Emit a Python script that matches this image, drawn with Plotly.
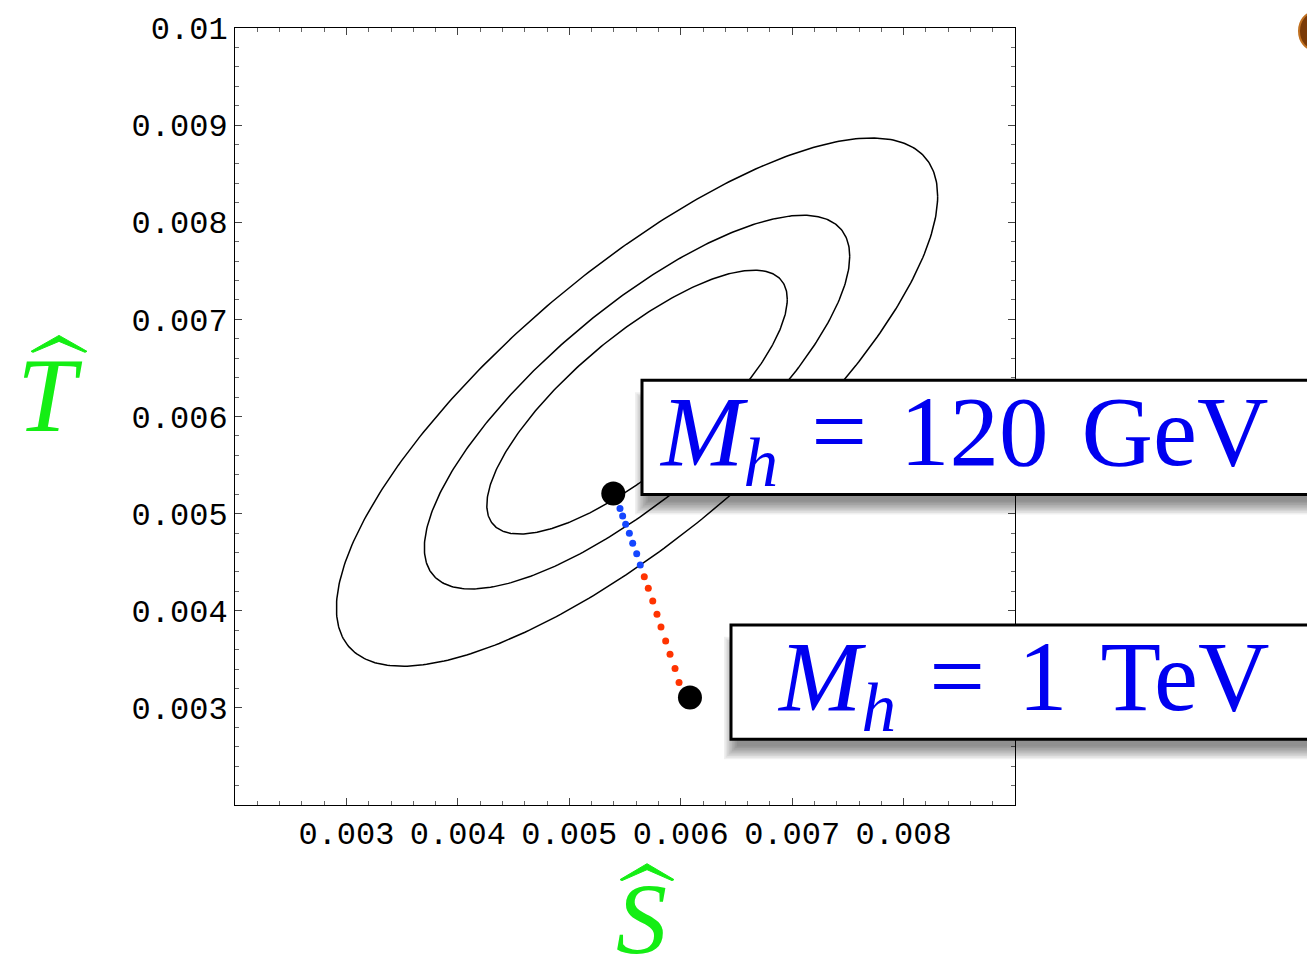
import numpy as np
import plotly.graph_objects as go

# Fit ellipse parameters in the (S, T) plane
center_s, center_t = 0.005608, 0.006148
sigma_s, sigma_t, rho = 0.000889, 0.000896, 0.78
delta_chi2 = [2.30, 4.61, 9.21]  # 68%, 90%, 99% CL for 2 parameters

# Standard-model predictions along the Higgs mass scan
s_light = [0.005455, 0.005479, 0.005506, 0.005539, 0.005569, 0.005605, 0.005637]
t_light = [0.005054, 0.004976, 0.004890, 0.004798, 0.004696, 0.004587, 0.004470]
s_heavy = [0.005673, 0.005709, 0.005749, 0.005787, 0.005823, 0.005865, 0.005904, 0.005949, 0.005985]
t_heavy = [0.004351, 0.004232, 0.004101, 0.003965, 0.003832, 0.003689, 0.003552, 0.003405, 0.003261]
end_s = [0.005395, 0.006083]
end_t = [0.005208, 0.003108]
end_labels = ["<i>M</i><sub><i>h</i></sub> \u200a=\u200a 120 \u200aGeV",
              "<i>M</i><sub><i>h</i></sub> \u200a=\u200a 1 \u200aTeV"]

x_ticks = [0.003, 0.004, 0.005, 0.006, 0.007, 0.008]
x_ticktext = ["0.003", "0.004", "0.005", "0.006", "0.007", "0.008"]
y_ticks = [0.003, 0.004, 0.005, 0.006, 0.007, 0.008, 0.009, 0.01]
y_ticktext = ["0.003", "0.004", "0.005", "0.006", "0.007", "0.008", "0.009", "0.01"]

W, H = 1307, 964
ML, MR, MT, MB = 235, 292, 24, 159
PW, PH = W - ML - MR, H - MT - MB


def px(x):
    return (x - ML) / PW


def py(y):
    return (H - MB - y) / PH


fig = go.Figure()

theta = np.linspace(0, 2 * np.pi, 400)
for d in delta_chi2:
    k = np.sqrt(d)
    s = center_s + k * sigma_s * np.cos(theta)
    t = center_t + k * sigma_t * (rho * np.cos(theta) + np.sqrt(1 - rho ** 2) * np.sin(theta))
    fig.add_trace(go.Scatter(x=s, y=t, mode="lines", line=dict(color="black", width=1.5),
                             hoverinfo="skip", showlegend=False))

fig.add_trace(go.Scatter(x=s_heavy, y=t_heavy, mode="markers",
                         marker=dict(color="#ff3300", size=7), showlegend=False))
fig.add_trace(go.Scatter(x=s_light, y=t_light, mode="markers",
                         marker=dict(color="#1446ff", size=7), showlegend=False))
fig.add_trace(go.Scatter(x=end_s, y=end_t, mode="markers",
                         marker=dict(color="black", size=24), showlegend=False))

shapes = []
boxes = [(642, 378, 493), (731, 624, 739)]
for (bx, by0, by1) in boxes:
    # soft drop shadow, offset downwards
    for i in range(9):
        inset = 1.6 * i
        shapes.append(dict(type="rect", xref="paper", yref="paper", layer="above",
                           x0=px(bx - 7 + inset), x1=px(W + 40),
                           y0=py(by1 + 20 - inset), y1=py(by0 + 12 + inset),
                           fillcolor="rgba(0,0,0,0.06)", line=dict(width=0)))
    shapes.append(dict(type="rect", xref="paper", yref="paper", layer="above",
                       x0=px(bx), x1=px(W + 20), y0=py(by1), y1=py(by0),
                       fillcolor="white", line=dict(color="black", width=3)))

green = "#14ee14"
# circumflex accents over the axis symbols
for (cx, cy, hw, hh) in [(59, 333, 28, 16), (647, 864, 27, 16)]:
    path = (f"M {px(cx - hw)} {py(cy + hh)} L {px(cx)} {py(cy)} L {px(cx + hw)} {py(cy + hh)} "
            f"L {px(cx + hw - 2)} {py(cy + hh + 1)} L {px(cx)} {py(cy + 6)} L {px(cx - hw + 2)} {py(cy + hh + 1)} Z")
    shapes.append(dict(type="path", xref="paper", yref="paper", path=path,
                       fillcolor=green, line=dict(color=green, width=1)))

# ornament at the top-right corner of the slide
shapes.append(dict(type="circle", xref="paper", yref="paper",
                   x0=px(1299), x1=px(1330), y0=py(46), y1=py(8),
                   fillcolor="#7a3a06", line=dict(color="#c07020", width=2)))

annotations = [
    dict(xref="paper", yref="paper", x=px(657), y=py(437), xanchor="left", yanchor="middle",
         text=end_labels[0], showarrow=False,
         font=dict(family="Liberation Serif", size=99, color="#0000f0")),
    dict(xref="paper", yref="paper", x=px(775), y=py(683), xanchor="left", yanchor="middle",
         text=end_labels[1], showarrow=False,
         font=dict(family="Liberation Serif", size=99, color="#0000f0")),
    dict(xref="paper", yref="paper", x=px(50), y=py(393), xanchor="center", yanchor="middle",
         text="<i>T</i>", showarrow=False,
         font=dict(family="Liberation Serif", size=106, color=green)),
    dict(xref="paper", yref="paper", x=px(641), y=py(920), xanchor="center", yanchor="middle",
         text="<i>S</i>", showarrow=False,
         font=dict(family="Liberation Serif", size=102, color=green)),
]

axis_common = dict(
    showgrid=False, zeroline=False, showline=True, linecolor="black", linewidth=1,
    mirror="ticks", ticks="inside", ticklen=7, tickwidth=1, tickcolor="#444",
    tickfont=dict(family="Liberation Mono", size=32, color="black"),
    minor=dict(ticks="inside", ticklen=4, tickcolor="#666", dtick=0.0002, showgrid=False),
)

fig.update_xaxes(range=[0.002, 0.009], tickvals=x_ticks, ticktext=x_ticktext,
                 ticklabelstandoff=0, **axis_common)
fig.update_yaxes(range=[0.002, 0.01], tickvals=y_ticks, ticktext=y_ticktext,
                 ticklabelstandoff=0, **axis_common)

fig.update_layout(
    width=W, height=H,
    margin=dict(l=ML, r=MR, t=MT, b=MB),
    paper_bgcolor="white", plot_bgcolor="white",
    shapes=shapes, annotations=annotations,
    showlegend=False,
)

fig.write_html("out.html")
